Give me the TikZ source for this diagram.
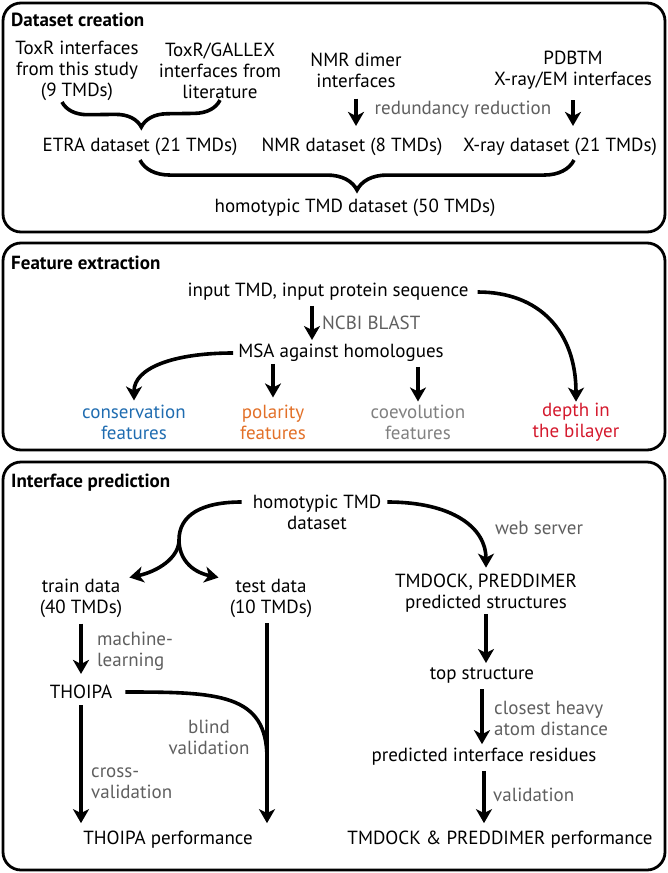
\documentclass[tikz,border=0pt]{standalone}
\usepackage{fontspec}
\setmainfont{PT Sans}
\usepackage{xcolor}
\usetikzlibrary{arrows.meta,decorations.pathreplacing}
\definecolor{consblue}{RGB}{31,108,176}
\definecolor{polorange}{RGB}{226,112,40}
\definecolor{coevgray}{RGB}{128,128,128}
\definecolor{depthred}{RGB}{212,25,45}
\definecolor{notegray}{RGB}{95,95,95}
\begin{document}
\begin{tikzpicture}[x=1pt, y=-1pt,
  txt/.style={font=\fontsize{19}{21}\selectfont, align=center, inner sep=1pt},
  note/.style={txt, text=notegray},
  head/.style={font=\fontsize{19}{21}\selectfont\bfseries, anchor=west, inner sep=1pt},
  panel/.style={line width=2.8pt, rounded corners=18pt},
  thick line/.style={line width=3.6pt},
  arr/.style={thick line, -{Stealth[length=14pt, width=16pt, inset=4pt]}},
  curly/.style={thick line, decorate, decoration={brace, mirror, amplitude=#1}}]
  \useasboundingbox (0,0) rectangle (668,873);
  \draw[panel] (3,3) rectangle (665,232);
  \draw[panel] (3,243) rectangle (665,450);
  \draw[panel] (3,462) rectangle (665,870);
  \node[head] (t1) at (10,20) {Dataset creation};
  \node[txt] (toxr) at (77,71) {ToxR interfaces\\from this study\\(9 TMDs)};
  \node[txt] (gallex) at (220,71) {ToxR/GALLEX\\interfaces from\\literature};
  \node[txt] (nmrsrc) at (356,70) {NMR dimer\\interfaces};
  \node[txt] (pdbsrc) at (573,70) {PDBTM\\X-ray/EM interfaces};
  \node[note] (redund) at (463,110) {redundancy reduction};
  \node[txt] (etra) at (140,147) {ETRA dataset (21 TMDs)};
  \node[txt] (nmrset) at (352,147) {NMR dataset (8 TMDs)};
  \node[txt] (xray) at (560,147) {X-ray dataset (21 TMDs)};
  \node[txt] (homods) at (355,208) {homotypic TMD dataset (50 TMDs)};
  \draw[arr, shorten <=10pt, shorten >=11pt] (nmrsrc.south) -- (nmrsrc.south |- nmrset.north);
  \draw[arr, shorten <=10pt, shorten >=11pt] (pdbsrc.south) -- (pdbsrc.south |- xray.north);
  \draw[curly=26pt] ([xshift=-15pt]toxr.south) -- (gallex.south);
  \draw[curly=30pt] ([yshift=-3pt]etra.south) -- ([xshift=14pt, yshift=-3pt]xray.south);
  \node[head] (t2) at (10,263) {Feature extraction};
  \node[txt] (input) at (328,292) {input TMD, input protein sequence};
  \node[txt] (msa) at (341,353) {MSA against homologues};
  \node[note, anchor=west] (blast) at (321,323) {NCBI BLAST};
  \node[txt, text=consblue] (cons) at (134,422) {conservation\\features};
  \node[txt, text=polorange] (pol) at (273,422) {polarity\\features};
  \node[txt, text=coevgray] (coev) at (418,422) {coevolution\\features};
  \node[txt, text=depthred] (depth) at (576,422) {depth in\\the bilayer};
  \coordinate (bx) at ([xshift=-9pt]blast.west);
  \draw[arr, shorten <=4pt, shorten >=3pt] (input.south -| bx) -- (msa.north -| bx);
  \draw[arr, shorten <=4pt, shorten >=3pt] (msa.west) .. controls +(-65,0) and +(0,-35) .. (cons.north);
  \draw[arr, shorten <=1pt, shorten >=6pt] (pol.north |- msa.south) -- (pol.north);
  \draw[arr, shorten <=4pt, shorten >=2pt] (coev.north |- msa.south) -- (coev.north);
  \draw[arr, shorten <=8pt] (input.east) .. controls +(70,0) and +(0,-70) .. (depth.north);
  \node[head] (t3) at (10,483) {Interface prediction};
  \node[txt] (hds) at (317,512) {homotypic TMD\\dataset};
  \node[note] (websrv) at (539,528) {web server};
  \node[txt] (train) at (81,598) {train data\\(40 TMDs)};
  \node[txt] (test) at (271,598) {test data\\(10 TMDs)};
  \node[txt] (dock) at (486,593) {TMDOCK, PREDDIMER\\predicted structures};
  \node[note, anchor=west, align=left] (ml) at (96,651) {machine-\\learning};
  \node[txt] (thoipa) at (81,692) {THOIPA};
  \node[txt] (top) at (482,675) {top structure};
  \node[note, anchor=west, align=left] (heavy) at (493,718) {closest heavy\\atom distance};
  \node[txt] (predres) at (484,757) {predicted interface residues};
  \node[note] (blind) at (209,737) {blind\\validation};
  \node[note, anchor=west, align=left] (cross) at (90,783) {cross-\\validation};
  \node[note, anchor=west] (valid) at (492,795) {validation};
  \node[txt] (tperf) at (168,840) {THOIPA performance};
  \node[txt] (dperf) at (500,840) {TMDOCK \& PREDDIMER performance};
  \coordinate (fork) at (179,540);
  \coordinate (join) at ([xshift=-4pt, yshift=-140pt]test.south);
  \draw[thick line, shorten <=10pt] ([yshift=10pt]hds.west) .. controls +(-50,0) and +(0,-25) .. (fork);
  \draw[arr] (fork) .. controls +(0,18) and +(28,-6) .. ([xshift=6pt]train.north east);
  \draw[arr] (fork) .. controls +(0,18) and +(-28,-6) .. ([xshift=-10pt]test.north west);
  \draw[arr, shorten <=5pt, shorten >=5pt] ([yshift=10pt]hds.east) .. controls +(70,0) and +(0,-45) .. (dock.north);
  \draw[arr, shorten <=1pt, shorten >=3pt] (dock.south) -- (dock.south |- top.north);
  \draw[arr, shorten <=5pt, shorten >=3pt] (top.south) -- (top.south |- predres.north);
  \draw[arr, shorten <=4pt, shorten >=7pt] (predres.south) -- (predres.south |- dperf.north);
  \draw[arr, shorten <=5pt, shorten >=10pt] (train.south) -- (thoipa.north);
  \draw[arr, shorten <=5pt, shorten >=7pt] (thoipa.south) -- (thoipa.south |- tperf.north);
  \draw[arr, shorten <=5pt, shorten >=7pt] (join |- test.south) -- (join |- tperf.north);
  \draw[thick line, shorten <=12pt] (thoipa.east) .. controls +(105,0) and +(0,-65) .. (join);
\end{tikzpicture}
\end{document}
